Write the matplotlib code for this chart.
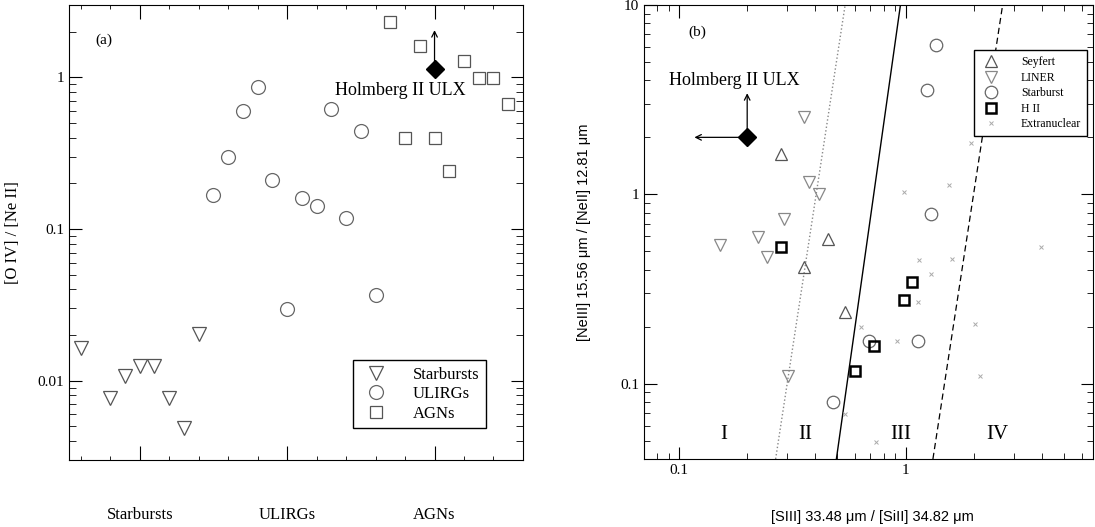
import numpy as np
import matplotlib
matplotlib.use("Agg")
import matplotlib.pyplot as plt
from matplotlib.ticker import FixedLocator, NullFormatter

plt.rcParams["font.family"] = ["Liberation Serif", "DejaVu Serif"]

# ---- panel (a): [O IV]/[Ne II] by class ----
categories = ["Starbursts", "ULIRGs", "AGNs"]

sb_x = [0.6, 0.8, 0.9, 1.0, 1.1, 1.2, 1.3, 1.4]
sb_y = [0.0164, 0.0077, 0.0107, 0.0125, 0.0125, 0.0077, 0.0049, 0.0203]

ul_x = [1.5, 1.6, 1.7, 1.8, 1.9, 2.0, 2.1, 2.2, 2.3, 2.4, 2.5, 2.6]
ul_y = [0.168, 0.30, 0.60, 0.86, 0.211, 0.0297, 0.16, 0.141, 0.617, 0.118, 0.443, 0.0365]

agn_x = [2.7, 2.8, 2.9, 3.0, 3.1, 3.2, 3.3, 3.4, 3.5]
agn_y = [2.32, 0.40, 1.60, 0.40, 0.24, 1.29, 0.99, 0.99, 0.665]

ulx_a = (3.0, 1.14)
ulx_a_limit = 2.05

# ---- panel (b): [NeIII]/[NeII] vs [SIII]/[SiII] ----
sey_x = [0.282, 0.453, 0.355, 0.541]
sey_y = [1.64, 0.583, 0.412, 0.238]

liner_x = [0.355, 0.374, 0.415, 0.292, 0.224, 0.152, 0.245, 0.303]
liner_y = [2.57, 1.16, 1.01, 0.743, 0.594, 0.537, 0.466, 0.110]

sbb_x = [1.36, 1.24, 1.30, 1.13, 0.691, 0.478]
sbb_y = [6.13, 3.55, 0.79, 0.169, 0.169, 0.080]

hii_x = [0.282, 1.07, 0.98, 0.729, 0.601]
hii_y = [0.526, 0.343, 0.275, 0.159, 0.117]

ext_x = [0.98, 1.55, 3.94, 1.15, 1.61, 1.95, 1.30, 1.13, 0.916, 2.02, 2.13, 0.541, 0.634, 0.742]
ext_y = [1.03, 1.12, 0.526, 0.448, 0.458, 1.86, 0.38, 0.269, 0.169, 0.207, 0.11, 0.069, 0.199, 0.049]

ulx_b = (0.2, 2.0)
ulx_b_up = 3.42
ulx_b_left = 0.117

# boundary lines: x at y=0.04 and y=10
bound_y = [0.04, 10]
dotted_x = [0.267, 0.541]
solid_x = [0.495, 0.949]
dashed_x = [1.32, 2.68]

regions = ["I", "II", "III", "IV"]
region_x = [0.158, 0.361, 0.949, 2.54]

fig = plt.figure(figsize=(10.95, 5.27), dpi=100)

# ================= panel a =================
ax = fig.add_axes([0.063, 0.127, 0.4146, 0.8634])
ms_kw = dict(ls="none", mfc="none", mew=0.9)
ax.plot(sb_x, sb_y, marker="v", ms=10, mec="#555555", label="Starbursts", **ms_kw)
ax.plot(ul_x, ul_y, marker="o", ms=10, mec="#666666", label="ULIRGs", **ms_kw)
ax.plot(agn_x, agn_y, marker="s", ms=8, mec="#555555", label="AGNs", **ms_kw)

ax.plot(*ulx_a, marker="D", ms=9, color="black", ls="none")
ax.annotate("", xy=(ulx_a[0], ulx_a_limit), xytext=ulx_a,
            arrowprops=dict(arrowstyle="->", color="black", lw=0.9, shrinkA=0, shrinkB=0))
ax.text(2.77, 0.82, "Holmberg II ULX", fontsize=13, ha="center", va="center")
ax.text(0.76, 1.75, "(a)", fontsize=11, ha="center", va="center")

ax.set_yscale("log")
ax.set_xlim(0.52, 3.6)
ax.set_ylim(0.003, 3.0)
ax.set_xticks([1, 2, 3])
ax.set_xticklabels(categories, fontsize=12)
ax.xaxis.set_minor_locator(FixedLocator(np.arange(0.6, 3.6, 0.2)))
ax.set_yticks([0.01, 0.1, 1])
ax.set_yticklabels(["0.01", "0.1", "1"], fontsize=11)
ax.yaxis.set_minor_formatter(NullFormatter())
ax.tick_params(which="both", direction="in", top=True, right=True)
ax.tick_params(axis="x", which="major", length=10, pad=34)
ax.tick_params(axis="x", which="minor", length=3)
ax.tick_params(axis="y", which="major", length=9)
ax.tick_params(axis="y", which="minor", length=5)
ax.set_ylabel("[O IV] / [Ne II]", fontsize=12)
ax.yaxis.set_label_coords(-0.105, 0.5)
ax.legend(loc="lower right", bbox_to_anchor=(0.919, 0.07), fontsize=12,
          frameon=True, fancybox=False, edgecolor="black", framealpha=1,
          handletextpad=1.2, labelspacing=0.2, borderpad=0.4, borderaxespad=0)

# ================= panel b =================
bx = fig.add_axes([0.588, 0.129, 0.410, 0.8615])
bx.plot(dotted_x, bound_y, ls=":", color="#888888", lw=1.0)
bx.plot(solid_x, bound_y, ls="-", color="black", lw=1.0)
bx.plot(dashed_x, bound_y, ls=(0, (5, 3)), color="black", lw=0.9)

bx.plot(ext_x, ext_y, marker="x", ms=3.5, mec="#aaaaaa", ls="none", mew=0.7, label="Extranuclear")
bx.plot(sey_x, sey_y, marker="^", ms=8, mec="#555555", label="Seyfert", **ms_kw)
bx.plot(liner_x, liner_y, marker="v", ms=8, mec="#888888", label="LINER", **ms_kw)
bx.plot(sbb_x, sbb_y, marker="o", ms=9, mec="#666666", label="Starburst", **ms_kw)
bx.plot(hii_x, hii_y, marker="s", ms=7.5, mec="black", ls="none", mfc="none", mew=1.8, label="H II")

bx.plot(*ulx_b, marker="D", ms=9, color="black", ls="none")
bx.annotate("", xy=(ulx_b[0], ulx_b_up), xytext=ulx_b,
            arrowprops=dict(arrowstyle="->", color="black", lw=0.9, shrinkA=0, shrinkB=0))
bx.annotate("", xy=(ulx_b_left, ulx_b[1]), xytext=ulx_b,
            arrowprops=dict(arrowstyle="->", color="black", lw=0.9, shrinkA=0, shrinkB=0))
bx.text(0.175, 4.0, "Holmberg II ULX", fontsize=13, ha="center", va="center")
bx.text(0.121, 7.2, "(b)", fontsize=11, ha="center", va="center")

for lab, rx in zip(regions, region_x):
    bx.text(rx, 0.054, lab, fontsize=15, ha="center", va="center")

bx.set_xscale("log")
bx.set_yscale("log")
bx.set_xlim(0.07, 6.7)
bx.set_ylim(0.04, 10)
bx.set_xticks([0.1, 1])
bx.set_xticklabels(["0.1", "1"], fontsize=11)
bx.set_yticks([0.1, 1, 10])
bx.set_yticklabels(["0.1", "1", "10"], fontsize=11)
bx.xaxis.set_minor_formatter(NullFormatter())
bx.yaxis.set_minor_formatter(NullFormatter())
bx.tick_params(which="both", direction="in", top=True, right=True)
bx.tick_params(which="major", length=9)
bx.tick_params(which="minor", length=4)
bx.set_xlabel("[SIII] 33.48 μm / [SiII] 34.82 μm", fontsize=10.5, family=["Liberation Sans", "DejaVu Sans"])
bx.xaxis.set_label_coords(0.51, -0.112)
bx.set_ylabel("[NeIII] 15.56 μm / [NeII] 12.81 μm", fontsize=10.5, family=["Liberation Sans", "DejaVu Sans"])
bx.yaxis.set_label_coords(-0.118, 0.5)

h, l = bx.get_legend_handles_labels()
order = ["Seyfert", "LINER", "Starburst", "H II", "Extranuclear"]
hd = dict(zip(l, h))
bx.legend([hd[k] for k in order], order, loc="upper right", bbox_to_anchor=(0.987, 0.90),
          fontsize=8.5, frameon=True, fancybox=False, edgecolor="black", framealpha=1,
          handletextpad=1.5, labelspacing=0.3, borderpad=0.5, borderaxespad=0)

fig.savefig("out.png", dpi=100)
